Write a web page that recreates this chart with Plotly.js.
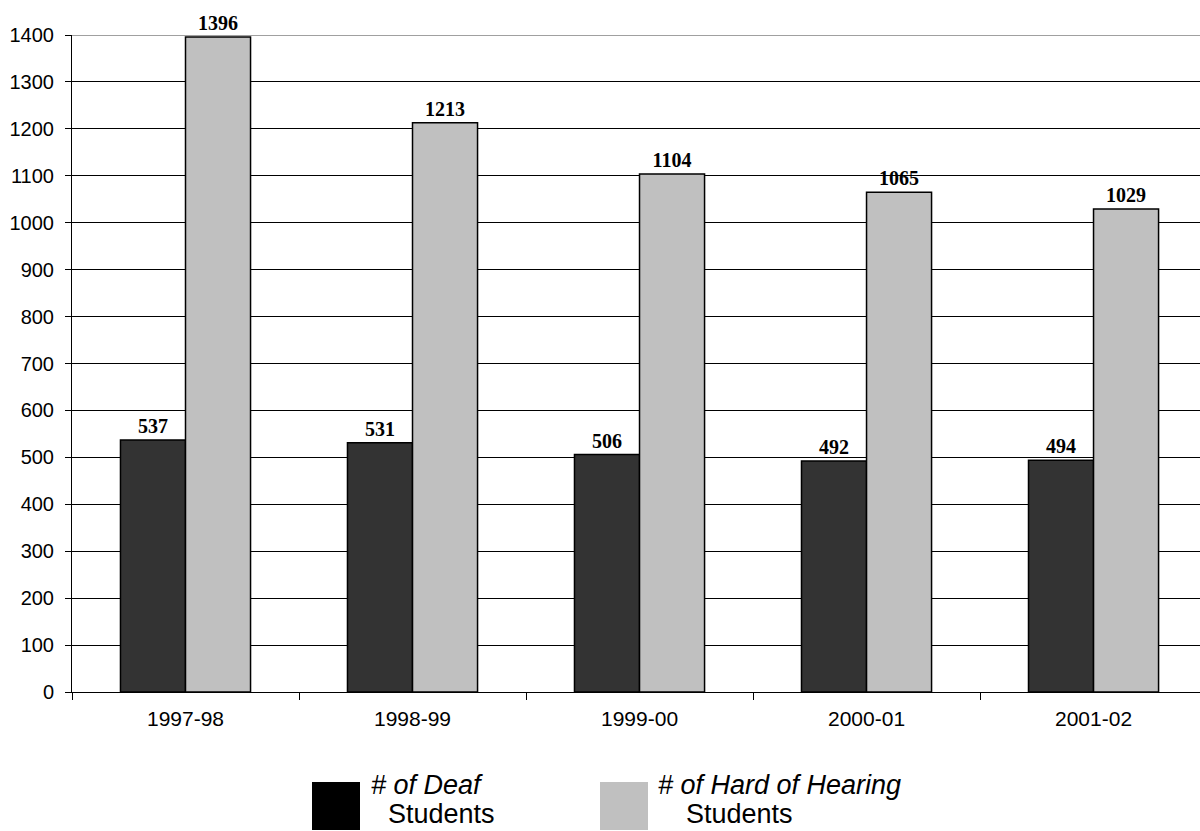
<!DOCTYPE html>
<html>
<head>
<meta charset="utf-8">
<script src="https://cdn.plot.ly/plotly-3.0.1.min.js"></script>
<style>html,body{margin:0;padding:0;background:#fff;}#chart{width:1200px;height:831px;}</style>
</head>
<body>
<div id="chart"></div>
<script>
// ---- data ----
const years = ["1997-98", "1998-99", "1999-00", "2000-01", "2001-02"];
const deafStudents = [537, 531, 506, 492, 494];
const hardOfHearingStudents = [1396, 1213, 1104, 1065, 1029];
const yTickValues = [0, 100, 200, 300, 400, 500, 600, 700, 800, 900, 1000, 1100, 1200, 1300, 1400];

// ---- layout helpers (pixel -> paper) ----
const W = 1200, H = 831, ML = 72, MR = 0, MT = 35, MB = 139;
const PW = W - ML - MR, PH = H - MT - MB;
const px = x => (x - ML) / PW;
const py = y => (H - MB - y) / PH;

const labelFont = {family: 'Liberation Serif, Times New Roman, serif', size: 20, color: '#000', weight: 'bold'};

const traces = [
  {
    type: 'bar', x: years, y: deafStudents, name: '# of Deaf Students',
    marker: {color: '#333333', line: {color: '#000', width: 1.5}},
    text: deafStudents.map(String), textposition: 'outside', textfont: labelFont,
    cliponaxis: false, constraintext: 'none', showlegend: false, hoverinfo: 'x+y'
  },
  {
    type: 'bar', x: years, y: hardOfHearingStudents, name: '# of Hard of Hearing Students',
    marker: {color: '#c0c0c0', line: {color: '#000', width: 1.5}},
    text: hardOfHearingStudents.map(String), textposition: 'outside', textfont: labelFont,
    cliponaxis: false, constraintext: 'none', showlegend: false, hoverinfo: 'x+y'
  }
];

const legFont = {family: 'Liberation Sans, Arial, sans-serif', size: 27, color: '#000'};

const layout = {
  width: W, height: H,
  margin: {l: ML, r: MR, t: MT, b: MB, pad: 0},
  paper_bgcolor: '#fff', plot_bgcolor: '#fff',
  barmode: 'group', bargap: 0.427, bargroupgap: 0,
  showlegend: false,
  font: {family: 'Liberation Sans, Arial, sans-serif', color: '#000'},
  xaxis: {
    type: 'category', range: [-0.5, 4.469],
    showline: true, linecolor: '#000', linewidth: 1,
    ticks: 'outside', tickson: 'boundaries', ticklen: 7, tickcolor: '#000', tickwidth: 1,
    tickfont: {size: 21, color: '#000'}, ticklabelstandoff: 8,
    showgrid: false, zeroline: false, fixedrange: true
  },
  yaxis: {
    range: [0, 1400], tickvals: yTickValues,
    showline: true, linecolor: '#000', linewidth: 1,
    ticks: 'outside', ticklen: 6, tickcolor: '#000', tickwidth: 1,
    tickfont: {size: 20, color: '#000'}, ticklabelstandoff: 7,
    showgrid: true, gridcolor: '#000', gridwidth: 1,
    zeroline: false, fixedrange: true
  },
  shapes: [
    {type: 'line', xref: 'paper', yref: 'y', x0: 0, x1: 1, y0: 1400, y1: 1400,
     line: {color: '#a0a0a0', width: 2}, layer: 'below'},
    {type: 'rect', xref: 'paper', yref: 'paper', x0: px(312), x1: px(360), y0: py(830), y1: py(782),
     fillcolor: '#000', line: {width: 0}},
    {type: 'rect', xref: 'paper', yref: 'paper', x0: px(600), x1: px(648), y0: py(830), y1: py(782),
     fillcolor: '#c0c0c0', line: {width: 0}}
  ],
  annotations: [
    {xref: 'paper', yref: 'paper', x: px(369), y: py(785), xanchor: 'left', yanchor: 'middle',
     text: '<i># of Deaf</i>', showarrow: false, font: legFont},
    {xref: 'paper', yref: 'paper', x: px(386), y: py(814), xanchor: 'left', yanchor: 'middle',
     text: 'Students', showarrow: false, font: legFont},
    {xref: 'paper', yref: 'paper', x: px(656), y: py(785), xanchor: 'left', yanchor: 'middle',
     text: '<i># of Hard of Hearing</i>', showarrow: false, font: legFont},
    {xref: 'paper', yref: 'paper', x: px(684), y: py(814), xanchor: 'left', yanchor: 'middle',
     text: 'Students', showarrow: false, font: legFont}
  ]
};

Plotly.newPlot('chart', traces, layout, {displayModeBar: false, staticPlot: true});
</script>
</body>
</html>
